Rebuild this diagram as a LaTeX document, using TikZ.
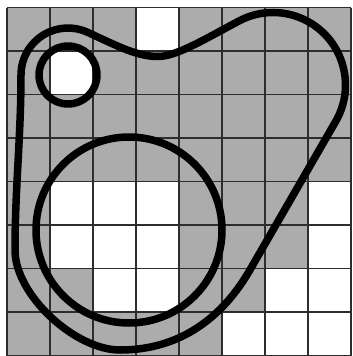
\documentclass[tikz,border=0pt]{standalone}
\definecolor{cellgray}{RGB}{172,172,172}
\definecolor{gridcol}{RGB}{45,45,45}
\tikzset{
  gridline/.style={draw=gridcol, line width=1.8pt},
  band/.style={draw=black, line width=7.5pt, line join=round},
}
\begin{document}
\begin{tikzpicture}[x=1pt,y=-1pt]
\useasboundingbox (0,0) rectangle (353,356);
\fill[white] (0,0) rectangle (353,356);
\fill[cellgray] (7,7.5) rectangle (351,356);
\foreach \c/\r in {3/0,1/1,1/4,2/4,3/4,7/4,1/5,2/5,3/5,7/5,2/6,3/6,6/6,7/6,5/7,6/7,7/7}
  \fill[white] ({7+43*\c},{7.5+43.5*\r}) rectangle ++(43,43.5);
\foreach \c in {0,...,8}
  \draw[gridline] ({7+43*\c},7.5) -- ({7+43*\c},356);
\foreach \r in {0,...,8}
  \draw[gridline] (7,{7.5+43.5*\r}) -- (351,{7.5+43.5*\r});
% small circle
\draw[band] (68,75) circle[radius=29pt];
% big circle
\draw[band] (129,230) circle[radius=93pt];
% outer loop
\coordinate (tl) at (21,75);
\coordinate (sbot) at (158,56.5);
\coordinate (rarc) at (238.96,20.99);
\coordinate (lend) at (249.9,270);
\coordinate (bot) at (120,350);
\coordinate (lf) at (15,250);
\draw[band] (tl) arc[start angle=180, end angle=65, radius=47pt]
  .. controls (119.6,47.2) and (138,56.5) .. (sbot)
  .. controls (176,56.5) and (203.6,39.8) .. (rarc)
  arc[start angle=118, end angle=-30, radius=72.5pt]
  -- (lend)
  .. controls (222.4,317.6) and (180,350) .. (bot)
  .. controls (75,350) and (15,295) .. (lf)
  .. controls (15,190) and (21,135) .. (tl) -- cycle;
\end{tikzpicture}
\end{document}
